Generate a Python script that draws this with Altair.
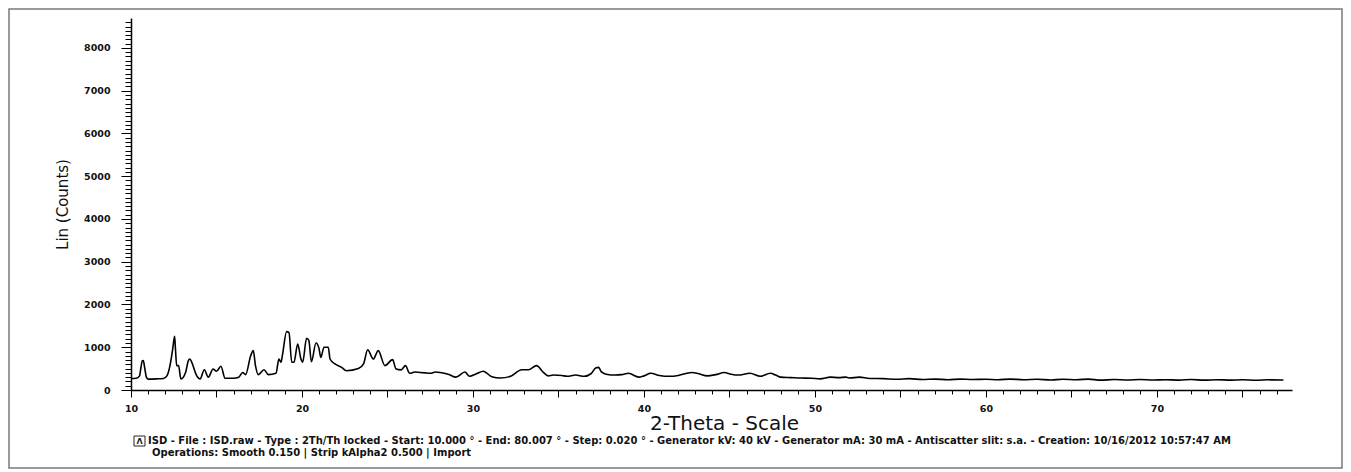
import altair as alt
import pandas as pd

# 2-theta positions (degrees) and intensities (counts)
two_theta = [
    10.0, 10.3, 10.5, 10.58, 10.66, 10.72, 10.8, 10.9, 11.0, 11.5, 11.9,
    12.1, 12.28, 12.44, 12.55, 12.6, 12.67, 12.78, 12.92, 13.2, 13.35, 13.45, 13.55,
    13.84, 14.04, 14.29, 14.52, 14.8, 15.0, 15.26, 15.5, 16.0, 16.3,
    16.53, 16.7, 17.0, 17.15, 17.28, 17.44, 17.78, 18.03, 18.48, 18.65,
    18.77, 18.85, 19.1, 19.24, 19.4, 19.53, 19.75, 19.94, 20.04, 20.27,
    20.4, 20.55, 20.82, 20.99, 21.1, 21.29, 21.54, 21.64, 21.93, 22.32,
    22.6, 23.3, 23.6, 23.84, 24.17, 24.46, 24.85, 25.3, 25.5, 25.8,
    26.05, 26.3, 26.6, 26.9, 27.2, 27.5, 27.8, 28.08, 28.6, 29.0,
    29.53, 29.8, 30.2, 30.6, 31.1, 31.6, 32.2, 32.85, 33.25, 33.72,
    34.1, 34.4, 34.7, 35.2, 35.5, 36.0, 36.5, 36.9, 37.2, 37.35,
    37.5, 37.8, 38.3, 38.7, 39.1, 39.7, 40.0, 40.4, 40.9, 41.5,
    42.0, 42.5, 42.8, 43.2, 43.7, 44.2, 44.7, 45.1, 45.5, 46.2,
    46.8, 47.4, 47.7, 48.0, 48.6, 49.2, 49.8, 50.3, 50.9, 51.4,
    51.8, 52.0, 52.6, 53.2, 54.0, 54.8, 55.5, 56.3, 57.0, 57.8,
    58.5, 59.2, 60.0, 60.7, 61.4, 62.2, 63.0, 63.8, 64.5, 65.3,
    66.0, 66.7, 67.5, 68.3, 69.0, 69.8, 70.5, 71.3, 72.0, 72.8,
    73.5, 74.3, 75.0, 75.8, 76.5, 77.4,
]
counts = [
    270, 275, 330, 520, 680, 690, 520, 300, 255, 260, 270,
    330, 570, 960, 1255, 960, 570, 570, 257, 420, 680, 725, 650,
    335, 257, 475, 300, 490, 440, 555, 275, 275, 300,
    410, 360, 800, 920, 570, 360, 475, 360, 390, 725,
    650, 800, 1365, 1340, 650, 650, 1075, 725, 650, 1210,
    1160, 660, 1100, 980, 760, 1000, 1000, 725, 610, 530,
    450, 500, 610, 940, 725, 920, 570, 710, 490, 470,
    570, 390, 420, 410, 400, 390, 420, 410, 360, 300,
    420, 320, 380, 440, 310, 280, 320, 475, 475, 570,
    420, 330, 350, 340, 320, 350, 320, 380, 520, 530,
    430, 370, 350, 360, 390, 300, 330, 390, 340, 320,
    340, 390, 410, 380, 330, 360, 410, 370, 350, 390,
    320, 390, 350, 300, 290, 280, 275, 260, 300, 290,
    300, 280, 300, 270, 265, 250, 265, 245, 255, 240,
    255, 245, 250, 240, 255, 240, 250, 235, 250, 240,
    255, 230, 245, 235, 245, 235, 240, 232, 245, 230,
    240, 232, 238, 228, 238, 235,
]

y_tick_values = list(range(0, 8700, 100))
x_tick_values = list(range(10, 78))

info_line_1 = ("ISD - File : ISD.raw - Type : 2Th/Th locked - Start: 10.000 ° - End: 80.007 ° - "
               "Step: 0.020 ° - Generator kV: 40 kV - Generator mA: 30 mA - Antiscatter slit: s.a. - "
               "Creation: 10/16/2012 10:57:47 AM")
info_line_2 = "Operations: Smooth 0.150 | Strip kAlpha2 0.500 | Import"

df = pd.DataFrame({"theta": two_theta, "counts": counts})

line = alt.Chart(df).mark_line(color="black", strokeWidth=1.6, interpolate="monotone").encode(
    x=alt.X("theta:Q",
            scale=alt.Scale(domain=[10, 77.9], nice=False, zero=False),
            axis=alt.Axis(
                values=x_tick_values,
                labelExpr="datum.value % 10 === 0 ? datum.label : ''",
                format="d",
                tickSize={"condition": {"test": "datum.value % 5 === 0", "value": 7}, "value": 4},
                labelPadding=6,
                labelOverlap=False,
                labelFlush=False,
                grid=False,
                title="2-Theta - Scale",
                titleFont="DejaVu Sans",
                titleFontSize=20,
                titleFontWeight="normal",
                titleX=593,
                titleY=33,
                titleAlign="center",
                titleBaseline="middle",
            )),
    y=alt.Y("counts:Q",
            scale=alt.Scale(domain=[0, 8700], nice=False),
            axis=alt.Axis(
                values=y_tick_values,
                labelExpr="datum.value % 1000 === 0 ? datum.label : ''",
                format="d",
                tickSize={"condition": {"test": "datum.value % 1000 === 0", "value": 10}, "value": 6},
                labelPadding=11,
                labelOverlap=False,
                labelFlush=False,
                grid=False,
                title="Lin (Counts)",
                titleFont="DejaVu Sans",
                titleFontSize=15,
                titleFontWeight="normal",
                titleAngle=270,
                titleX=-69,
                titleY=186,
                titleAlign="center",
                titleBaseline="middle",
            )),
)

one_row = alt.Data(values=[{"k": 1}])

frame = alt.Chart(one_row).mark_rect(fill=None, stroke="#7a7a7a", strokeWidth=1.5).encode(
    x=alt.value(-122), x2=alt.value(1211), y=alt.value(-9), y2=alt.value(450)
)

icon = alt.Chart(one_row).mark_rect(fill=None, stroke="#222", strokeWidth=1).encode(
    x=alt.value(3), x2=alt.value(14), y=alt.value(418), y2=alt.value(428)
)
icon_peak = alt.Chart(one_row).mark_text(text="ᐱ", font="DejaVu Sans", fontSize=8,
                                         fontWeight="bold", color="#222").encode(
    x=alt.value(8.5), y=alt.value(424)
)

txt1 = alt.Chart(one_row).mark_text(text=info_line_1, align="left", baseline="middle",
                                    font="DejaVu Sans", fontSize=10, fontWeight="bold",
                                    color="#111").encode(
    x=alt.value(17), y=alt.value(423)
)
txt2 = alt.Chart(one_row).mark_text(text=info_line_2, align="left", baseline="middle",
                                    font="DejaVu Sans", fontSize=10, fontWeight="bold",
                                    color="#111").encode(
    x=alt.value(21), y=alt.value(435)
)

chart = alt.layer(line, frame, icon, icon_peak, txt1, txt2).properties(
    width=1161,
    height=372,
    padding={"left": 123, "top": 10, "right": 51, "bottom": 80},
    autosize=alt.AutoSizeParams(type="none"),
    background="white",
).configure_view(strokeWidth=0).configure_axis(
    domainColor="black",
    domainWidth=1.5,
    tickColor="black",
    tickWidth=1,
    labelFont="DejaVu Sans",
    labelFontSize=9.5,
    labelFontWeight="bold",
    labelColor="#111",
    titleColor="#111",
)

chart.save("out.html", embed_options={"renderer": "svg", "actions": False})
